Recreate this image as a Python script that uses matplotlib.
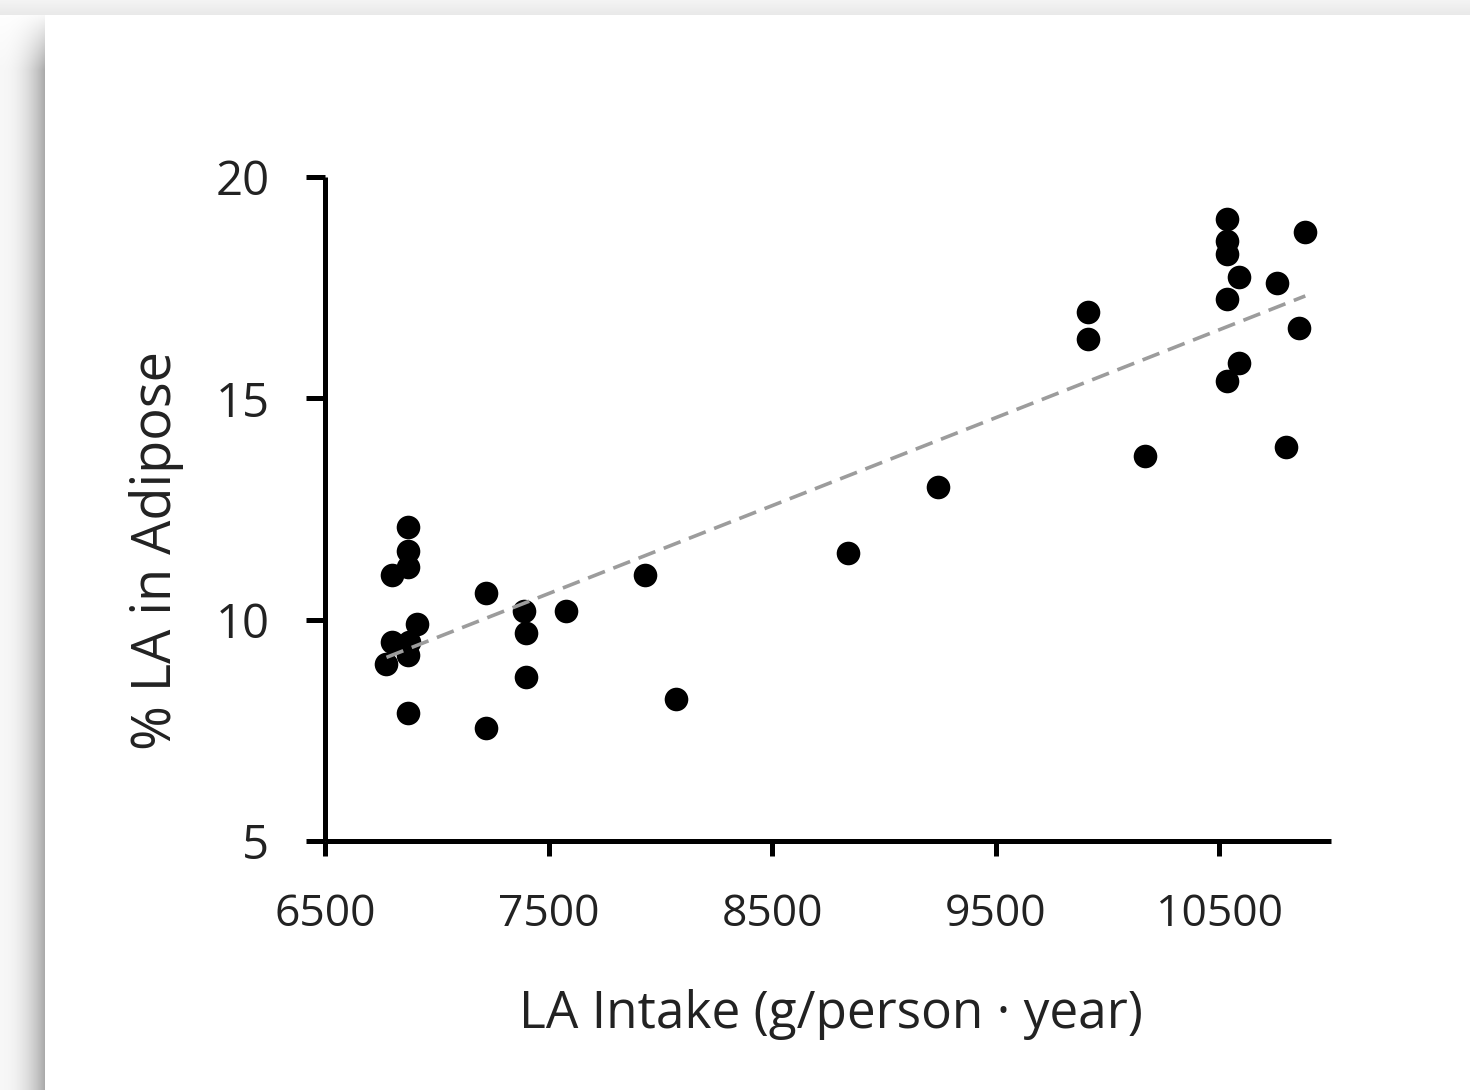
import numpy as np
import matplotlib.pyplot as plt

# LA intake (g/person·year) vs % LA in adipose tissue
la_intake = [6870, 6870, 6870, 6800, 7220, 7930, 7390, 7580, 6910, 6800,
             6875, 6870, 6775, 7400, 7400, 6870, 7220, 8070,
             8840, 9240, 10170,
             10535, 10535, 10535, 10590, 10535, 10760, 10885, 10855,
             9915, 9915, 10590, 10535, 10800]
la_adipose = [12.1, 11.55, 11.2, 11.0, 10.6, 11.0, 10.2, 10.2, 9.9, 9.5,
              9.5, 9.2, 9.0, 9.7, 8.7, 7.9, 7.55, 8.2,
              11.5, 13.0, 13.7,
              19.05, 18.55, 18.25, 17.75, 17.25, 17.6, 18.75, 16.6,
              16.95, 16.35, 15.8, 15.4, 13.9]

xticks = [6500, 7500, 8500, 9500, 10500]
yticks = [5, 10, 15, 20]

W, H = 1470, 1090
fig = plt.figure(figsize=(W / 100, H / 100), dpi=100)
fig.patch.set_facecolor('white')

# page shadow along the top and left edges
yy, xx = np.mgrid[0:H, 0:W].astype(float)
bg = np.ones((H, W))
left = xx < 45
t = np.clip(xx / 44.0, 0, 1)
fade = np.clip((yy - 10) / 60.0, 0, 1)
bg[left] = (1.0 - (0.03 + 0.30 * t ** 2.2) * fade)[left]
top = yy < 15
bg[top] = (0.955 - 0.04 * (yy / 14.0))[top]
img = np.dstack([bg, bg, bg])
fig.figimage(img, xo=0, yo=0, origin='upper', zorder=-5)

ax = fig.add_axes([325 / W, 1 - 841 / H, 1006 / W, 664 / H])
ax.set_zorder(2)
ax.set_facecolor('none')

ax.plot(la_intake, la_adipose, 'o', color='black', markersize=17,
        markeredgewidth=0, zorder=3)

# linear trend over the data range
k, b = np.polyfit(la_intake, la_adipose, 1)
xs = np.array([min(la_intake), max(la_intake)])
ax.plot(xs, k * xs + b, color='#9c9c9c', lw=2.6, dashes=(5, 2.5), zorder=4)

ax.set_xlim(6500, 11000)
ax.set_ylim(5, 20)
ax.set_xticks(xticks)
ax.set_yticks(yticks)

font = 'Open Sans'
for lab in ax.get_xticklabels():
    lab.set_fontfamily(font)
    lab.set_fontsize(32)
    lab.set_color('#222222')
for lab in ax.get_yticklabels():
    lab.set_fontfamily(font)
    lab.set_fontsize(34)
    lab.set_color('#222222')

for s in ['top', 'right']:
    ax.spines[s].set_visible(False)
for s in ['left', 'bottom']:
    ax.spines[s].set_linewidth(3.6)
    ax.spines[s].set_capstyle('butt')
ax.tick_params(axis='y', direction='out', length=14, width=3.6, pad=26)
ax.tick_params(axis='x', direction='out', length=11, width=3.6, pad=26)

fig.text(157 / W, 1 - 551 / H, '% LA in Adipose', rotation=90,
         ha='center', va='center', fontsize=39, family=font, color='#222222')
fig.text(831 / W, 1 - 1015 / H, 'LA Intake (g/person · year)',
         ha='center', va='center', fontsize=37, family=font, color='#222222')

fig.savefig('out.png', dpi=100)
